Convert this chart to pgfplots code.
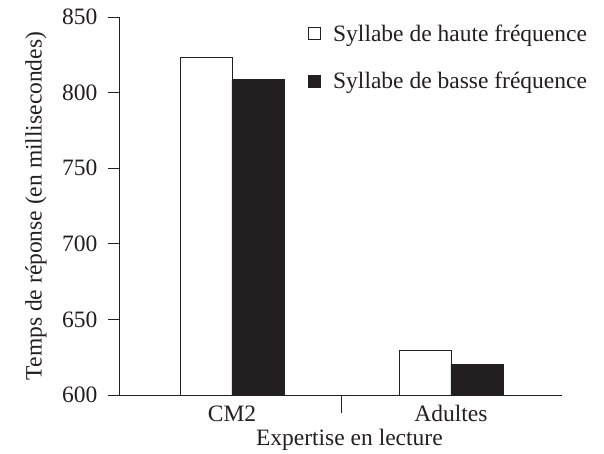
\documentclass[border=0pt]{standalone}
\usepackage{pgfplots}
\pgfplotsset{compat=1.18}
\usepackage{fontspec}
\setmainfont{Liberation Serif}
\definecolor{dark}{HTML}{231F20}
\begin{document}
\begin{tikzpicture}
\path[use as bounding box] (-119pt,-59pt) rectangle (485pt,395pt);
\begin{axis}[
  at={(0pt,0pt)}, anchor=south west,
  scale only axis, width=443pt, height=378pt,
  xmin=-0.516, xmax=1.507, ymin=600, ymax=850,
  axis lines*=left,
  axis line style={draw=dark, line width=0.9pt},
  ybar=0pt, bar width=52pt,
  ytick={600,650,...,850},
  tick align=outside,
  ytick style={draw=dark, line width=0.9pt},
  major tick length=11pt,
  xtick={0,1}, xticklabels={CM2,Adultes},
  xtick style={draw=none},
  extra x ticks={0.5}, extra x tick labels={},
  extra x tick style={xtick style={draw=dark, line width=0.9pt}, major tick length=18pt},
  /pgf/number format/assume math mode=true,
  tick label style={font=\fontsize{23.5}{27}\selectfont, text=dark},
  yticklabel style={xshift=-7pt},
  xticklabel style={yshift=4pt},
  label style={font=\fontsize{23.5}{27}\selectfont, text=dark},
  ylabel={Temps de réponse (en millisecondes)},
  ylabel style={at={(axis description cs:0,0.5)}, anchor=center, rotate=0, yshift=83pt},
  xlabel={Expertise en lecture},
  xlabel style={at={(axis description cs:0.52,0)}, anchor=base, yshift=-51pt},
  legend style={at={(axis description cs:0.427,0.985)}, anchor=north west, draw=none, fill=none,
    font=\fontsize{23.5}{27}\selectfont, text=dark, row sep=25pt, inner sep=0pt,
    /tikz/every even column/.append style={column sep=6pt}},
  legend image code/.code={\draw[#1, line width=0.8pt] (0pt,-6pt) rectangle (12pt,6pt);},
  legend cell align=left,
  legend style={/tikz/every odd column/.append style={column sep=10pt}},
]
\addplot[draw=dark, fill=white, line width=0.9pt] coordinates {(0,823.5) (1,629.5)};
\addplot[draw=dark, fill=dark, line width=0.9pt] coordinates {(0,808.5) (1,620.5)};
\legend{Syllabe de haute fréquence, Syllabe de basse fréquence}
\end{axis}
\end{tikzpicture}
\end{document}
